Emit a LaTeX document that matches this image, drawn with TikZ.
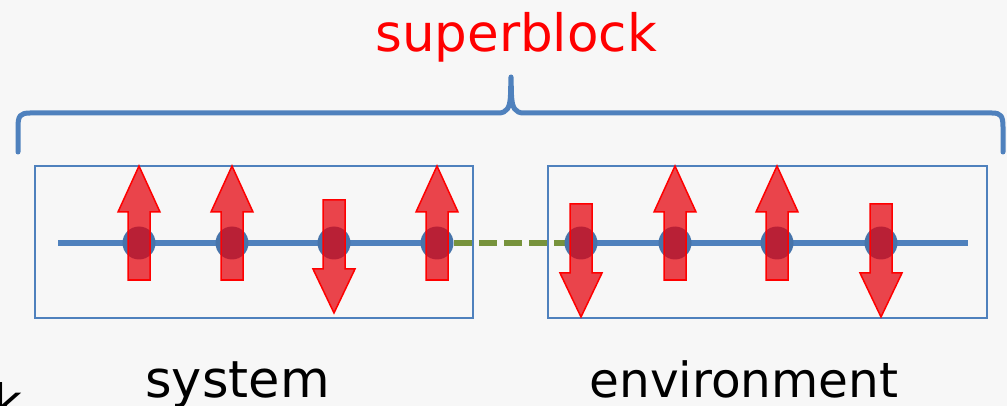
\documentclass[tikz,border=0pt]{standalone}
\usepackage{fontspec}
\newfontfamily\djv{DejaVu Sans}
\usetikzlibrary{calc}
\definecolor{bluel}{RGB}{79,129,189}
\definecolor{greend}{RGB}{119,147,60}
\definecolor{arrred}{RGB}{230,0,10}
\definecolor{bgc}{RGB}{247,247,247}
\tikzset{
 boxst/.style={draw=bluel, line width=1.6pt, minimum width=#1, minimum height=152pt, inner sep=0pt},
 site/.style={circle, fill=bluel!90!black, minimum size=33pt, inner sep=0pt},
 chain/.style={draw=bluel, line width=6pt},
 coupling/.style={draw=greend, line width=5.5pt, dash pattern=on 18pt off 7pt},
 spin/.style={draw=red, line width=1.5pt, fill=arrred, fill opacity=0.72, line join=miter},
 lbl/.style={inner sep=0pt, anchor=base},
 brace/.style={draw=bluel, line width=5pt, line cap=round, line join=round},
 pics/spinup/.style={code={\path[spin] (0,-77) -- (21,-31) -- (11,-31) -- (11,37) -- (-11,37) -- (-11,-31) -- (-21,-31) -- cycle;}},
 pics/spindown/.style={code={\path[spin] (0,73) -- (21,29) -- (11,29) -- (11,-40) -- (-11,-40) -- (-11,29) -- (-21,29) -- cycle;}}
}
\begin{document}
\begin{tikzpicture}[x=1pt,y=-1pt]
\useasboundingbox (0,0) rectangle (1007,406);
\fill[bgc] (0,0) rectangle (1007,406);

% boxes
\node[boxst=438pt] (sysbox) at (254,242) {};
\node[boxst=439pt] (envbox) at (767.5,242) {};

% sites
\coordinate (cl) at (58,243);
\coordinate (cr) at (968,243);
\path (139,243) coordinate (p1) (232,243) coordinate (p2) (334,243) coordinate (p3) (437,243) coordinate (p4)
      (581,243) coordinate (p5) (675,243) coordinate (p6) (777,243) coordinate (p7) (881,243) coordinate (p8);
\draw[chain] (cl) -- (p4);
\draw[chain] (p5) -- (cr);
\draw[coupling] ($(p4)+(17,0)$) -- (p5);
\foreach \i in {1,...,8} {\node[site] (s\i) at (p\i) {};}

% spins
\pic at (s1) {spinup};
\pic at (s2) {spinup};
\pic at ($(s3)+(0,-3)$) {spindown};
\pic at (s4) {spinup};
\pic at ($(s5)+(0,1)$) {spindown};
\pic at (s6) {spinup};
\pic at (s7) {spinup};
\pic at ($(s8)+(0,1)$) {spindown};

% brace
\draw[brace] (18,152) -- (18,127) .. controls (18,116) and (20,113) .. (30,113) -- (498,113)
  .. controls (507,113) and (510,108) .. (510.5,95) -- (511,77) -- (511.5,95)
  .. controls (512,108) and (515,113) .. (524,113) -- (992,113)
  .. controls (1001,113) and (1003,116) .. (1003,127) -- (1003,152);

% labels
\node[lbl, text=red, font=\djv\fontsize{51.5}{60}\selectfont] (sb) at (516,52) {superblock};
\node[lbl, font=\djv\fontsize{51}{60}\selectfont] (systxt) at (237.5,397) {system};
\node[lbl, font=\djv\fontsize{48.5}{60}\selectfont] (envtxt) at (744,397) {environment};
\node[inner sep=0pt, anchor=base west, font=\djv\fontsize{50}{60}\selectfont] (ktxt) at (-7,420) {k};
\end{tikzpicture}
\end{document}
